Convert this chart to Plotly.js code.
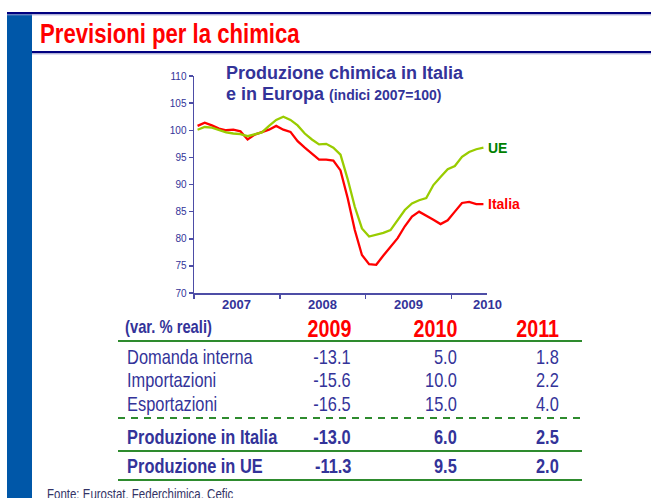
<!DOCTYPE html>
<html>
<head>
<meta charset="utf-8">
<script src="https://cdn.plot.ly/plotly-3.0.1.min.js"></script>
<style>
html,body{margin:0;padding:0;background:#fff;}
#chart{width:651px;height:498px;}
</style>
</head>
<body>
<div id="chart"></div>
<script>
// ---- data ----
var years = ['2007', '2008', '2009', '2010'];
var italia = [100.8, 101.4, 100.9, 100.3, 100.0, 100.1, 99.8, 98.3, 99.2, 99.6, 100.1, 100.8,
              100.1, 99.7, 98.0, 96.8, 95.7, 94.6, 94.6, 94.4, 92.6, 87.5, 81.6, 77.0,
              75.3, 75.2, 76.9, 78.4, 80.1, 82.3, 84.1, 85.0, 84.3, 83.5, 82.7, 83.4,
              85.0, 86.6, 86.8, 86.4, 86.4];
var ue = [100.1, 100.6, 100.5, 100.1, 99.6, 99.4, 99.3, 98.9, 99.2, 99.6, 100.8, 101.9,
          102.5, 101.9, 100.9, 99.4, 98.3, 97.4, 97.5, 96.8, 95.5, 91.0, 85.9, 81.9,
          80.4, 80.7, 81.1, 81.6, 83.5, 85.3, 86.5, 87.1, 87.5, 89.9, 91.4, 92.8,
          93.4, 95.1, 96.0, 96.5, 96.8];
var seriesNames = ['Italia', 'UE'];
var tableYears = ['2009', '2010', '2011'];
var tableHeader = '(var. % reali)';
var rowLabels = ['Domanda interna', 'Importazioni', 'Esportazioni', 'Produzione in Italia', 'Produzione in UE'];
var val2009 = ['-13.1', '-15.6', '-16.5', '-13.0', '-11.3'];
var val2010 = ['5.0', '10.0', '15.0', '6.0', '9.5'];
var val2011 = ['1.8', '2.2', '4.0', '2.5', '2.0'];
var slideTitle = 'Previsioni per la chimica';
var chartTitle1 = 'Produzione chimica in Italia';
var chartTitle2a = 'e in Europa';
var chartTitle2b = '(indici 2007=100)';
var source = 'Fonte: Eurostat, Federchimica, Cefic';

// ---- layout helpers ----
var W = 651, H = 498;
var ml = 194, mr = 164, mt = 76, mb = 205;
var pw = W - ml - mr, ph = H - mt - mb;
function px(x) { return (x - ml) / pw; }
function py(y) { return 1 - (y - mt) / ph; }

var NAVY = '#333399';
var ARIAL = '"Liberation Sans", Arial, sans-serif';
var NARROW_SCALE = 0.82;

var idx = italia.map(function (_, i) { return i; });
var n = italia.length;

var traces = [
  { x: idx, y: italia, type: 'scatter', mode: 'lines', name: seriesNames[0],
    line: { color: '#FF0000', width: 2.3 }, hoverinfo: 'skip' },
  { x: idx, y: ue, type: 'scatter', mode: 'lines', name: seriesNames[1],
    line: { color: '#99CC00', width: 2.3 }, hoverinfo: 'skip' }
];

var shapes = [];
var ann = [];
var narrow = [];
function addAnn(a, narrowAnchor) {
  if (narrowAnchor) narrow.push({ i: ann.length, anchor: narrowAnchor });
  ann.push(a);
}

// slide frame
shapes.push({ type: 'rect', xref: 'paper', yref: 'paper', x0: px(7), x1: px(32), y0: py(505), y1: py(12),
  fillcolor: '#0057A8', line: { width: 0 }, layer: 'below' });
shapes.push({ type: 'line', xref: 'paper', yref: 'paper', x0: px(7), x1: px(660), y0: py(13), y1: py(13),
  line: { color: '#000080', width: 2 } });
shapes.push({ type: 'line', xref: 'paper', yref: 'paper', x0: px(7), x1: px(660), y0: py(14.8), y1: py(14.8),
  line: { color: '#9090C8', width: 1 } });
shapes.push({ type: 'line', xref: 'paper', yref: 'paper', x0: px(32), x1: px(660), y0: py(52), y1: py(52),
  line: { color: '#000080', width: 2 } });
shapes.push({ type: 'line', xref: 'paper', yref: 'paper', x0: px(32), x1: px(660), y0: py(53.8), y1: py(53.8),
  line: { color: '#9090C8', width: 1 } });

// year labels (centred on each year's span of months)
years.forEach(function (y, k) {
  var pos = Math.min(12 * k + 5.5, n - 0.4);
  addAnn({ text: '<b>' + y + '</b>', xref: 'paper', yref: 'paper', x: (pos + 0.5) / n, y: py(304),
    xanchor: 'center', yanchor: 'middle', showarrow: false,
    font: { family: ARIAL, size: 13, color: NAVY } });
});

// end labels
addAnn({ text: '<b>' + seriesNames[1] + '</b>', xref: 'x', yref: 'y', x: n - 1, y: ue[n - 1],
  xanchor: 'left', yanchor: 'middle', xshift: 3, showarrow: false,
  font: { family: ARIAL, size: 14, color: '#008000' } });
addAnn({ text: '<b>' + seriesNames[0] + '</b>', xref: 'x', yref: 'y', x: n - 1, y: italia[n - 1],
  xanchor: 'left', yanchor: 'middle', xshift: 3, showarrow: false,
  font: { family: ARIAL, size: 14, color: '#FF0000' } });

// chart title
addAnn({ text: '<b>' + chartTitle1 + '</b>', xref: 'paper', yref: 'paper', x: px(224), y: py(73),
  xanchor: 'left', yanchor: 'middle', showarrow: false,
  font: { family: ARIAL, size: 18, color: NAVY } });
addAnn({ text: '<b>' + chartTitle2a + ' <span style="font-size:14px">' + chartTitle2b + '</span></b>',
  xref: 'paper', yref: 'paper', x: px(224), y: py(94),
  xanchor: 'left', yanchor: 'middle', showarrow: false,
  font: { family: ARIAL, size: 18, color: NAVY } });

// slide title
addAnn({ text: '<b>' + slideTitle + '</b>', xref: 'paper', yref: 'paper', x: px(38), y: py(34),
  xanchor: 'left', yanchor: 'middle', showarrow: false,
  font: { family: ARIAL, size: 27, color: '#FF0000' } }, 'left');

// table
var colRight = [353, 459, 561];
var tL = 118, tR = 582;
var GREEN = '#2E8B2E';
function hline(y, dash) {
  shapes.push({ type: 'line', xref: 'paper', yref: 'paper', x0: px(tL), x1: px(tR), y0: py(y), y1: py(y),
    line: { color: GREEN, width: 2, dash: dash || 'solid' } });
}
hline(341); hline(418, '7px,6px'); hline(451); hline(480);

addAnn({ text: '<b>' + tableHeader + '</b>', xref: 'paper', yref: 'paper', x: px(123), y: py(327),
  xanchor: 'left', yanchor: 'middle', showarrow: false,
  font: { family: ARIAL, size: 18, color: NAVY } }, 'left');
tableYears.forEach(function (t, k) {
  addAnn({ text: '<b>' + t + '</b>', xref: 'paper', yref: 'paper', x: px(colRight[k]), y: py(328),
    xanchor: 'right', yanchor: 'middle', showarrow: false,
    font: { family: ARIAL, size: 24, color: '#FF0000' } }, 'right');
});
var rowY = [357, 380, 404, 437, 466];
var cols = [val2009, val2010, val2011];
rowLabels.forEach(function (lab, r) {
  var bold = r >= 3;
  var wrap = function (s) { return bold ? '<b>' + s + '</b>' : s; };
  addAnn({ text: wrap(lab), xref: 'paper', yref: 'paper', x: px(125), y: py(rowY[r]),
    xanchor: 'left', yanchor: 'middle', showarrow: false,
    font: { family: ARIAL, size: 20, color: NAVY } }, 'left');
  cols.forEach(function (c, k) {
    addAnn({ text: wrap(c[r]), xref: 'paper', yref: 'paper', x: px(colRight[k]), y: py(rowY[r]),
      xanchor: 'right', yanchor: 'middle', showarrow: false,
      font: { family: ARIAL, size: 20, color: NAVY } }, 'right');
  });
});

// source
addAnn({ text: source, xref: 'paper', yref: 'paper', x: px(45), y: py(494),
  xanchor: 'left', yanchor: 'middle', showarrow: false,
  font: { family: ARIAL, size: 14, color: '#333366' } }, 'left');

var layout = {
  width: W, height: H,
  margin: { l: ml, r: mr, t: mt, b: mb, pad: 0 },
  paper_bgcolor: '#FFFFFF', plot_bgcolor: '#FFFFFF',
  showlegend: false,
  xaxis: {
    range: [-0.5, n - 0.5], showgrid: false, zeroline: false,
    showline: true, linecolor: '#4D4DA6', linewidth: 1.5,
    tickmode: 'array', tickvals: years.map(function (_, k) { return 12 * k - 0.5; }),
    ticktext: years.map(function () { return ''; }),
    ticks: 'outside', ticklen: 4, tickcolor: '#4D4DA6', tickwidth: 1.5
  },
  yaxis: {
    range: [70, 110], dtick: 5, tick0: 70, showgrid: false, zeroline: false,
    showline: true, linecolor: '#4D4DA6', linewidth: 1.5,
    ticks: 'outside', ticklen: 4, tickcolor: '#4D4DA6', tickwidth: 1.5,
    tickfont: { family: ARIAL, size: 10, color: NAVY }
  },
  shapes: shapes,
  annotations: ann
};

// condense the slide's narrow-font texts horizontally, anchored on their aligned edge
function condense(gd) {
  var groups = gd.querySelectorAll('.annotation');
  narrow.forEach(function (o) {
    var g = gd.querySelector('.annotation[data-index="' + o.i + '"]') || groups[o.i];
    if (!g) return;
    var t = g.querySelector('text.annotation-text');
    if (!t) return;
    var b = t.getBBox();
    var ax = o.anchor === 'left' ? b.x : (o.anchor === 'right' ? b.x + b.width : b.x + b.width / 2);
    t.setAttribute('transform', 'translate(' + ax + ',0) scale(' + NARROW_SCALE + ',1) translate(' + (-ax) + ',0)');
  });
}

Plotly.newPlot('chart', traces, layout, { staticPlot: true, displayModeBar: false }).then(condense);
</script>
</body>
</html>
